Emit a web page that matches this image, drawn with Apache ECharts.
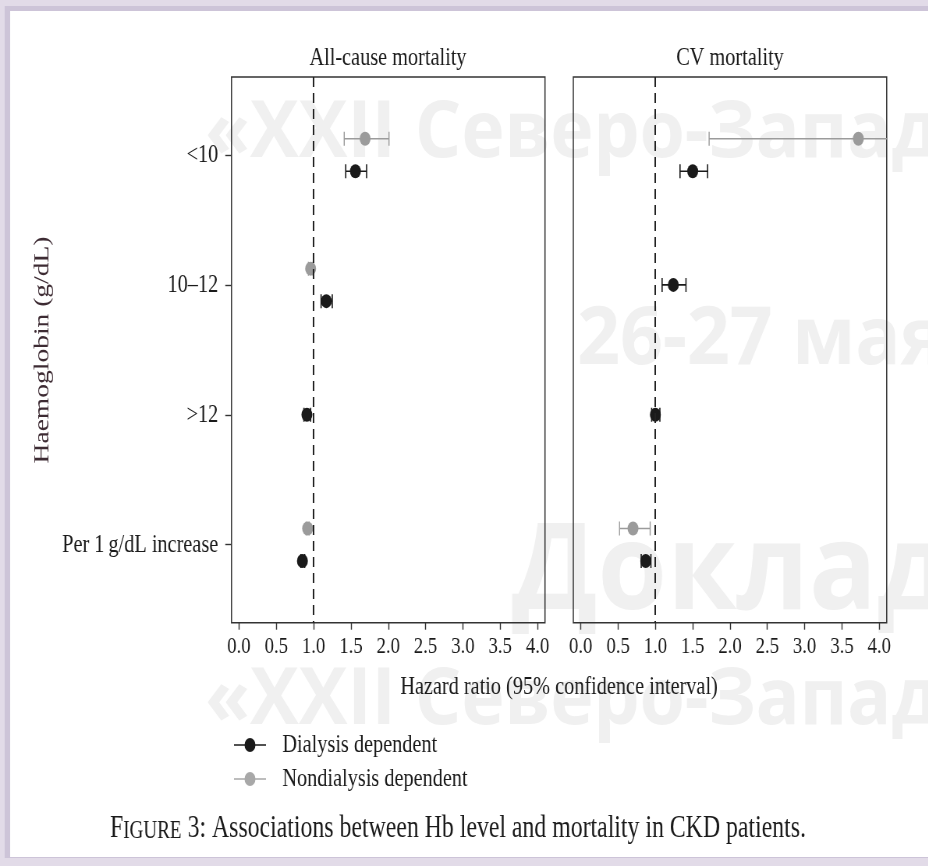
<!DOCTYPE html>
<html>
<head>
<meta charset="utf-8">
<script src="https://cdn.jsdelivr.net/npm/echarts@6/dist/echarts.min.js"></script>
<style>
  html, body { margin: 0; padding: 0; overflow: hidden; background: #ffffff; }
  /* the figure is laid out on a wider canvas and squeezed horizontally */
  #chart { width: 1190px; height: 866px; transform: scaleX(0.78); transform-origin: 0 0; }
</style>
</head>
<body>
<div id="chart"></div>
<script>
// Hemoglobin categories (rows) and hazard-ratio axis ticks
const categories = ['<10', '10–12', '>12', 'Per 1\u2009g/dL increase'];
const tickValues = [0, 0.5, 1, 1.5, 2, 2.5, 3, 3.5, 4];
const panelTitles = ['All-cause mortality', 'CV mortality'];
const groupNames = ['Dialysis dependent', 'Nondialysis dependent'];

// All-cause mortality: hazard ratio with 95% CI
const allCauseDialysisHR    = [1.56, 1.17, 0.91, 0.85];
const allCauseDialysisLow   = [1.43, 1.10, 0.87, 0.83];
const allCauseDialysisHigh  = [1.71, 1.25, 0.96, 0.88];
const allCauseNondialysisHR   = [1.69, 0.96, null, 0.92];
const allCauseNondialysisLow  = [1.41, 0.93, null, 0.90];
const allCauseNondialysisHigh = [2.01, 0.99, null, 0.94];

// CV mortality: hazard ratio with 95% CI
const cvDialysisHR    = [1.50, 1.24, 1.00, 0.87];
const cvDialysisLow   = [1.33, 1.09, 0.95, 0.81];
const cvDialysisHigh  = [1.70, 1.41, 1.06, 0.94];
const cvNondialysisHR   = [3.72, null, null, 0.70];
const cvNondialysisLow  = [1.72, null, null, 0.52];
const cvNondialysisHigh = [8.05, null, null, 0.93];

const panels = [
  { dial: [allCauseDialysisHR, allCauseDialysisLow, allCauseDialysisHigh],
    nond: [allCauseNondialysisHR, allCauseNondialysisLow, allCauseNondialysisHigh] },
  { dial: [cvDialysisHR, cvDialysisLow, cvDialysisHigh],
    nond: [cvNondialysisHR, cvNondialysisLow, cvNondialysisHigh] }
];

const BLACK = '#1a1a1a';
const GREY = '#9b9b9b';
const SERIF = '"Liberation Serif", "DejaVu Serif", serif';
const DODGE = 0.125;

// vertical position of a row, dodged only when both groups are present
function rowPos(i, otherHR, upper) {
  if (otherHR[i] == null) return i;
  return i + (upper ? -DODGE : DODGE);
}

function errorBar(color, width) {
  return function (params, api) {
    const lo = api.coord([api.value(0), api.value(1)]);
    const hi = api.coord([api.value(2), api.value(1)]);
    const cap = 7;
    const style = { stroke: color, lineWidth: width, fill: null };
    return {
      type: 'group',
      children: [
        { type: 'line', shape: { x1: lo[0], y1: lo[1], x2: hi[0], y2: hi[1] }, style: style },
        { type: 'line', shape: { x1: lo[0], y1: lo[1] - cap, x2: lo[0], y2: lo[1] + cap }, style: style },
        { type: 'line', shape: { x1: hi[0], y1: hi[1] - cap, x2: hi[0], y2: hi[1] + cap }, style: style }
      ]
    };
  };
}

const series = [];
panels.forEach(function (panel, p) {
  const groups = [
    { name: groupNames[0], vals: panel.dial, other: panel.nond[0], upper: false, color: BLACK, lw: 1.6 },
    { name: groupNames[1], vals: panel.nond, other: panel.dial[0], upper: true, color: GREY, lw: 1.4 }
  ];
  groups.forEach(function (g, gi) {
    const hr = g.vals[0], lo = g.vals[1], hi = g.vals[2];
    const bars = [], dots = [];
    categories.forEach(function (c, i) {
      if (hr[i] == null) return;
      const y = rowPos(i, g.other, g.upper);
      bars.push([lo[i], y, hi[i]]);
      dots.push([hr[i], y]);
    });
    series.push({
      type: 'custom', name: g.name, xAxisIndex: p, yAxisIndex: p,
      clip: true, z: 2, silent: true,
      encode: { x: [0, 2], y: 1 },
      renderItem: errorBar(g.color, g.lw),
      data: bars
    });
    const dotSeries = {
      type: 'scatter', name: g.name, xAxisIndex: p, yAxisIndex: p,
      symbol: 'circle', symbolSize: 14, z: 3, silent: true,
      itemStyle: { color: g.color, opacity: 1 },
      data: dots
    };
    if (gi === 0) {
      // null-effect reference line at HR = 1
      dotSeries.markLine = {
        silent: true, symbol: ['none', 'none'], animation: false,
        label: { show: false },
        lineStyle: { color: '#222', width: 2, type: [10, 6] },
        data: [{ xAxis: 1 }]
      };
    }
    series.push(dotSeries);
  });
});

function xAxisFor(idx) {
  return {
    type: 'value', gridIndex: idx, min: -0.1, max: 4.1, position: 'bottom',
    axisLine: { show: false, onZero: false },
    splitLine: { show: false },
    axisTick: { show: true, customValues: tickValues, length: 7, lineStyle: { color: '#333', width: 1.4 } },
    axisLabel: {
      customValues: tickValues, margin: 12,
      formatter: function (v) { return v.toFixed(1); },
      fontFamily: SERIF, fontSize: 24, color: '#1a1a1a'
    }
  };
}

function yAxisFor(idx, showLabels) {
  return {
    type: 'value', gridIndex: idx, min: -0.6, max: 3.6, inverse: true, position: 'left',
    axisLine: { show: false, onZero: false },
    splitLine: { show: false },
    axisTick: { show: showLabels, customValues: [0, 1, 2, 3], length: 8, lineStyle: { color: '#333', width: 1.4 } },
    axisLabel: {
      show: showLabels, customValues: [0, 1, 2, 3], margin: 17,
      formatter: function (v) { return categories[Math.round(v)]; },
      fontFamily: SERIF, fontSize: 26, color: '#1a1a1a'
    }
  };
}

const legendIcon = 'path://M0,6.2 L14,6.2 L14,7.8 L0,7.8 Z M27,6.2 L41,6.2 L41,7.8 L27,7.8 Z M27.5,7 A7,7 0 1 1 13.5,7 A7,7 0 1 1 27.5,7 Z';

// the event watermark keeps roughly its own proportions on the squeezed canvas
const watermark = function (text, x, y, size) {
  return {
    type: 'text', x: x, y: y, z: -5, silent: true, scaleX: 1.2,
    style: {
      text: text, fill: '#f0f0f0', fontFamily: '"Open Sans", "Noto Sans", sans-serif',
      fontWeight: 'bold', fontSize: size, textAlign: 'left', textVerticalAlign: 'middle'
    }
  };
};

const option = {
  animation: false,
  backgroundColor: 'transparent',
  grid: [
    { left: 296.8, top: 77, width: 401.9, height: 545.7, show: true, borderColor: '#333', borderWidth: 1.5, backgroundColor: 'transparent' },
    { left: 735.0, top: 77, width: 401.8, height: 545.7, show: true, borderColor: '#333', borderWidth: 1.5, backgroundColor: 'transparent' }
  ],
  xAxis: [xAxisFor(0), xAxisFor(1)],
  yAxis: [yAxisFor(0, true), yAxisFor(1, false)],
  legend: {
    orient: 'vertical', left: 295, top: 727,
    itemWidth: 41, itemHeight: 14, itemGap: 8,
    selectedMode: false,
    textStyle: { fontFamily: SERIF, fontSize: 26, lineHeight: 26, color: '#1a1a1a', padding: [0, 0, 0, 16] },
    data: [
      { name: groupNames[0], icon: legendIcon, itemStyle: { color: BLACK } },
      { name: groupNames[1], icon: legendIcon, itemStyle: { color: '#a8a8a8' } }
    ]
  },
  graphic: [
    // page frame
    { type: 'rect', z: -10, silent: true, shape: { x: 0, y: 0, width: 1190, height: 866 }, style: { fill: '#e2dbe8' } },
    { type: 'rect', z: -10, silent: true, shape: { x: 6, y: 6, width: 1184, height: 852 }, style: { fill: '#cdc4d8' } },
    { type: 'rect', z: -10, silent: true, shape: { x: 13, y: 11, width: 1177, height: 846 }, style: { fill: '#ffffff' } },
    // event watermark
    watermark('«XXII Северо-Запад', 263, 135, 78),
    watermark('26-27 мая', 740, 341, 80),
    watermark('Доклад', 656, 575, 120),
    watermark('«XXII Северо-Запад', 263, 702, 78),
    // panel titles
    { type: 'text', x: 497.4, y: 58, z: 10, style: { text: panelTitles[0], fontFamily: SERIF, fontSize: 26, fill: '#1a1a1a', textAlign: 'center', textVerticalAlign: 'middle' } },
    { type: 'text', x: 935.9, y: 58, z: 10, style: { text: panelTitles[1], fontFamily: SERIF, fontSize: 26, fill: '#1a1a1a', textAlign: 'center', textVerticalAlign: 'middle' } },
    // shared axis titles
    { type: 'text', x: 716.7, y: 687, z: 10, style: { text: 'Hazard ratio (95% confidence interval)', fontFamily: SERIF, fontSize: 26, fill: '#1a1a1a', textAlign: 'center', textVerticalAlign: 'middle' } },
    { type: 'text', x: 55, y: 350, z: 10, rotation: Math.PI / 2, style: { text: 'Haemoglobin (g/dL)', fontFamily: SERIF, fontSize: 27.5, fill: '#3d2b33', textAlign: 'center', textVerticalAlign: 'middle' } },
    // caption
    { type: 'text', x: 141, y: 828, z: 10, style: {
        text: '{a|F}{b|IGURE}{a| 3: Associations between Hb level and mortality in CKD patients.}',
        textAlign: 'left', textVerticalAlign: 'middle',
        rich: {
          a: { fontFamily: SERIF, fontSize: 30.5, fill: '#1a1a1a', verticalAlign: 'bottom', lineHeight: 32 },
          b: { fontFamily: SERIF, fontSize: 24.5, fill: '#1a1a1a', verticalAlign: 'bottom', lineHeight: 28 }
        }
      } }
  ],
  series: series
};

const chart = echarts.init(document.getElementById('chart'), null, { renderer: 'canvas' });
chart.setOption(option);
</script>
</body>
</html>
